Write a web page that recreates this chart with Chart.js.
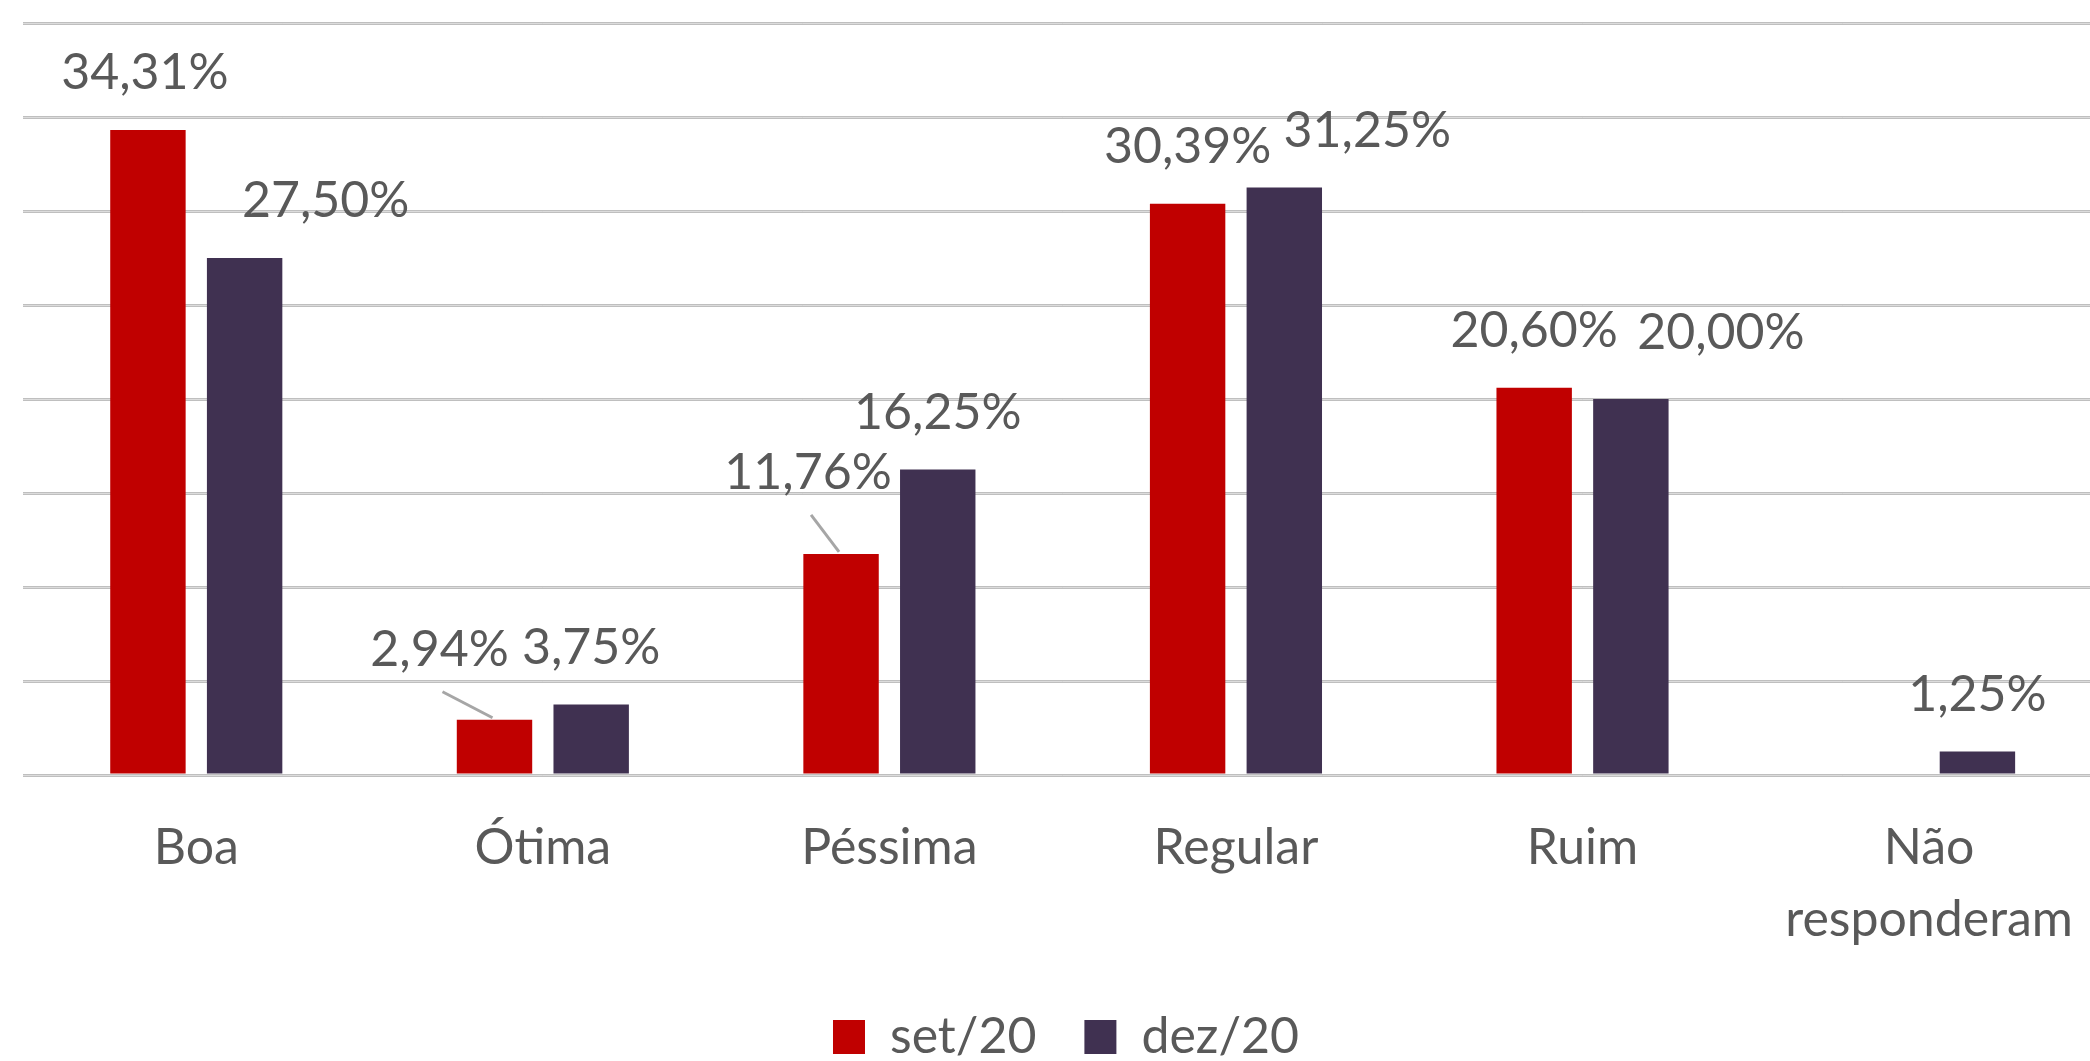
<!DOCTYPE html>
<html lang="pt">
<head>
<meta charset="UTF-8">
<title>Avaliação set/20 x dez/20</title>
<script src="https://cdn.jsdelivr.net/npm/chart.js"></script>
<style>
  html, body { margin: 0; padding: 0; overflow: hidden; background: #fff; }
  .chart-box { width: 2110px; height: 1072px; }
</style>
</head>
<body>
<div class="chart-box"><canvas id="evalChart"></canvas></div>
<script>
// data
const categories = ['Boa', 'Ótima', 'Péssima', 'Regular', 'Ruim', ['Não', 'responderam']];
const seriesNames = ['set/20', 'dez/20'];
const set20 = [34.31, 2.94, 11.76, 30.39, 20.60, null];
const dez20 = [27.50, 3.75, 16.25, 31.25, 20.00, 1.25];
const yMax = 40;
const yStep = 5;

const colors = ['#C00000', '#403151'];
const textColor = '#595959';
const font = { family: 'Lato', size: 50 };

// labels that were dragged by hand in the original sheet: [dx, dy up] in px
const labelNudge = [
    [[-3, 0], [-55, 13], [-33, 24], [0, 0], [0, 0], [0, 0]],
    [[81, 0], [0, 0], [0, 0], [83, 0], [90, 9], [0, 0]]
];
const hasLeader = [
    [false, true, true, false, false, false],
    [false, false, false, false, false, false]
];

const fmt = v => v.toFixed(2).replace('.', ',') + '%';

// lighter core on the grid lines (they look doubled in the original)
const gridCore = {
    id: 'gridCore',
    beforeDatasetsDraw(chart) {
        const { ctx, chartArea, scales: { y } } = chart;
        ctx.save();
        ctx.strokeStyle = '#dcdcdc';
        ctx.lineWidth = 1;
        y.ticks.forEach(t => {
            const py = Math.round(y.getPixelForValue(t.value)) + 0.5;
            ctx.beginPath();
            ctx.moveTo(chartArea.left, py);
            ctx.lineTo(chartArea.right, py);
            ctx.stroke();
        });
        ctx.restore();
    }
};

// value labels above the bars
const valueLabels = {
    id: 'valueLabels',
    afterDatasetsDraw(chart) {
        const ctx = chart.ctx;
        ctx.save();
        ctx.font = `${font.size}px ${font.family}`;
        ctx.fillStyle = textColor;
        ctx.textAlign = 'center';
        ctx.textBaseline = 'middle';
        chart.data.datasets.forEach((ds, di) => {
            const meta = chart.getDatasetMeta(di);
            meta.data.forEach((bar, i) => {
                const v = ds.data[i];
                if (v === null || v === undefined) return;
                const [dx, dy] = labelNudge[di][i];
                const lx = bar.x + dx;
                const ly = bar.y - 57 - dy;
                if (hasLeader[di][i]) {
                    ctx.strokeStyle = '#a6a6a6';
                    ctx.lineWidth = 3;
                    ctx.beginPath();
                    ctx.moveTo(lx + 3, ly + 42);
                    ctx.lineTo(bar.x - 2, bar.y - 2);
                    ctx.stroke();
                }
                ctx.fillText(fmt(v), lx, ly);
            });
        });
        ctx.restore();
    }
};

const ctx = document.getElementById('evalChart').getContext('2d');
const evalChart = new Chart(ctx, {
    type: 'bar',
    data: {
        labels: categories,
        datasets: [
            { label: seriesNames[0], data: set20, backgroundColor: colors[0] },
            { label: seriesNames[1], data: dez20, backgroundColor: colors[1] }
        ]
    },
    options: {
        responsive: true,
        maintainAspectRatio: false,
        animation: false,
        datasets: {
            bar: { categoryPercentage: 0.558, barPercentage: 0.78, borderWidth: 0 }
        },
        layout: { padding: { left: 23, right: 1, top: 23, bottom: 0 } },
        plugins: {
            legend: {
                position: 'bottom',
                labels: {
                    color: textColor,
                    font: font,
                    boxWidth: 32,
                    boxHeight: 34,
                    padding: 48
                }
            },
            tooltip: { enabled: false }
        },
        scales: {
            x: {
                grid: { display: false, drawTicks: false },
                border: { display: false },
                ticks: {
                    color: textColor,
                    font: { family: 'Lato', size: 50, lineHeight: 1.44 },
                    padding: 37,
                    maxRotation: 0,
                    autoSkip: false
                },
                // the label block is taller than needed; let the plot grow down
                afterFit(scale) {
                    scale.height -= 29;
                }
            },
            y: {
                min: 0,
                max: yMax,
                ticks: { stepSize: yStep, display: false },
                grid: { color: '#bfbfbf', lineWidth: 3, drawTicks: false },
                border: { display: false }
            }
        }
    },
    plugins: [gridCore, valueLabels]
});
</script>
</body>
</html>
